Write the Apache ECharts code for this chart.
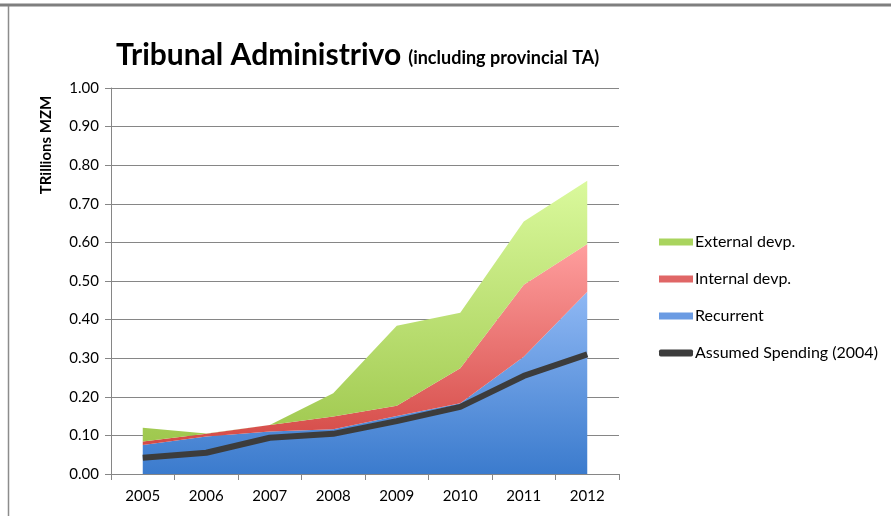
<!DOCTYPE html>
<html>
<head>
<meta charset="utf-8">
<script src="https://cdn.jsdelivr.net/npm/echarts@6/dist/echarts.min.js"></script>
<style>
html,body{margin:0;padding:0;background:#fff;}
#chart{width:891px;height:516px;}
</style>
</head>
<body>
<div id="chart"></div>
<script>
const years = ['2005','2006','2007','2008','2009','2010','2011','2012'];
const recurrent = [0.075, 0.097, 0.110, 0.116, 0.150, 0.183, 0.304, 0.472];
const internalDevp = [0.009, 0.007, 0.017, 0.033, 0.027, 0.091, 0.186, 0.124];
const externalDevp = [0.036, 0.001, 0.000, 0.060, 0.207, 0.144, 0.164, 0.164];
const assumedSpending = [0.042, 0.055, 0.094, 0.104, 0.137, 0.174, 0.254, 0.310];
const yTicks = {min: 0, max: 1, interval: 0.1};

const FONT = 'Lato, "Open Sans", sans-serif';
const chart = echarts.init(document.getElementById('chart'), null, {renderer: 'canvas'});

function grad(top, bottom) {
  return new echarts.graphic.LinearGradient(0, 0, 0, 1, [
    {offset: 0, color: top}, {offset: 1, color: bottom}
  ]);
}

chart.setOption({
  animation: false,
  backgroundColor: '#fff',
  title: {
    text: '{a|Tribunal Administrivo} {b|(including provincial TA)}',
    left: 111,
    top: 35,
    textStyle: {
      rich: {
        a: {fontFamily: FONT, fontSize: 30, fontWeight: 'bold', color: '#000'},
        b: {fontFamily: FONT, fontSize: 18, fontWeight: 'bold', color: '#000', padding: [7, 0, 0, 2]}
      }
    }
  },
  graphic: [
    {type: 'line', shape: {x1: 0, y1: 5, x2: 891, y2: 5}, style: {stroke: '#7f7f7f', lineWidth: 3}},
    {type: 'line', shape: {x1: 8.5, y1: 6, x2: 8.5, y2: 516}, style: {stroke: '#8c8c8c', lineWidth: 1.5}},
    {
      type: 'text', x: 46, y: 145, rotation: Math.PI / 2,
      style: {
        text: 'TRillions MZM', fontFamily: FONT, fontSize: 15, fontWeight: 'bold',
        fill: '#000', align: 'center', verticalAlign: 'middle'
      }
    }
  ],
  legend: {
    orient: 'vertical',
    left: 654,
    top: 229,
    itemWidth: 34,
    itemHeight: 7,
    itemGap: 21,
    textStyle: {fontFamily: FONT, fontSize: 16, lineHeight: 16, color: '#000', padding: [0, 0, 0, -3]},
    data: [
      {name: 'External devp.', icon: 'rect'},
      {name: 'Internal devp.', icon: 'rect'},
      {name: 'Recurrent', icon: 'rect'},
      {name: 'Assumed Spending (2004)', icon: 'roundRect'}
    ]
  },
  grid: {left: 111, right: 272, top: 88, bottom: 42, outerBoundsMode: 'none'},
  xAxis: {
    type: 'category',
    data: years,
    boundaryGap: true,
    axisLine: {lineStyle: {color: '#868686', width: 1}},
    axisTick: {show: true, length: 6, lineStyle: {color: '#868686'}},
    axisLabel: {fontFamily: FONT, fontSize: 15, color: '#000', margin: 15}
  },
  yAxis: {
    type: 'value',
    min: yTicks.min,
    max: yTicks.max,
    interval: yTicks.interval,
    axisLine: {show: true, lineStyle: {color: '#868686', width: 1}},
    axisTick: {show: true, length: 6, lineStyle: {color: '#868686'}},
    axisLabel: {fontFamily: FONT, fontSize: 15, color: '#000', margin: 12, formatter: v => v.toFixed(2)},
    splitLine: {lineStyle: {color: '#868686', width: 1}}
  },
  series: [
    {
      name: 'Recurrent', type: 'line', stack: 'total', data: recurrent,
      symbol: 'none', lineStyle: {width: 0}, itemStyle: {color: '#6a9be3'},
      areaStyle: {opacity: 1, color: grad('#8fb8f4', '#3b7bcd')}, z: 2
    },
    {
      name: 'Internal devp.', type: 'line', stack: 'total', data: internalDevp,
      symbol: 'none', lineStyle: {width: 0}, itemStyle: {color: '#e06666'},
      areaStyle: {opacity: 1, color: grad('#ff9e9e', '#d44a46')}, z: 2
    },
    {
      name: 'External devp.', type: 'line', stack: 'total', data: externalDevp,
      symbol: 'none', lineStyle: {width: 0}, itemStyle: {color: '#a9d45e'},
      areaStyle: {opacity: 1, color: grad('#daf99c', '#9fc84e')}, z: 2
    },
    {
      name: 'Assumed Spending (2004)', type: 'line', data: assumedSpending,
      symbol: 'none', itemStyle: {color: '#3c3c3c'},
      lineStyle: {width: 6, color: '#3c3c3c', cap: 'butt'}, z: 5
    }
  ]
});
</script>
</body>
</html>
